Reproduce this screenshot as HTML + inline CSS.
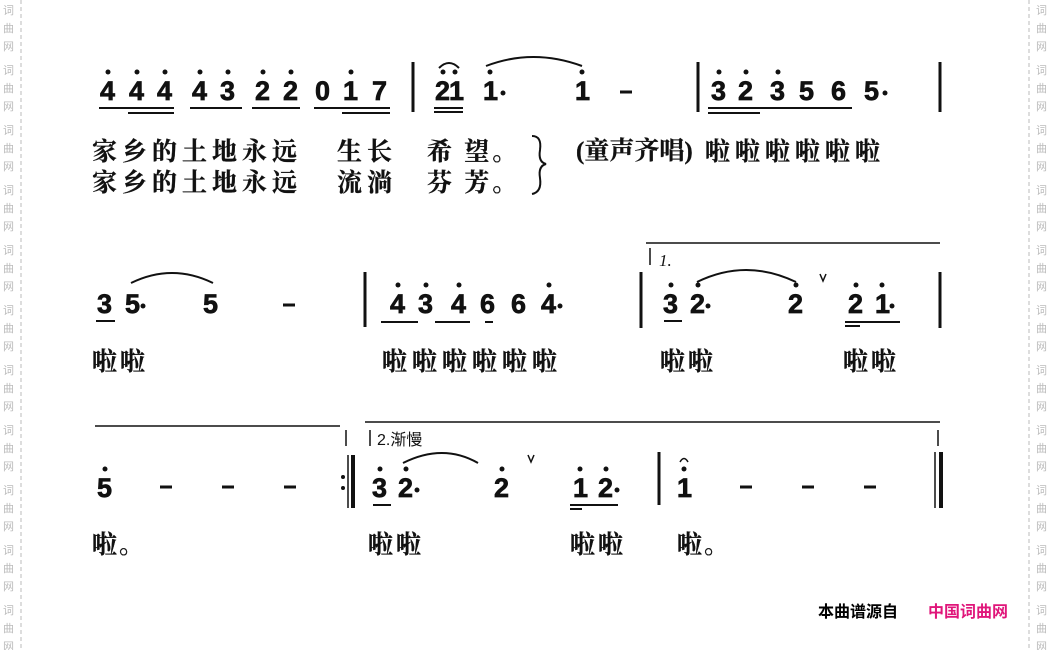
<!DOCTYPE html>
<html><head><meta charset="utf-8"><style>
html,body{margin:0;padding:0;background:#fff;}
svg{display:block}
.n{font-family:"Liberation Sans",sans-serif;font-weight:bold;font-size:27px;fill:#111;stroke:#111;stroke-width:0.7}
.l{font-family:"Liberation Serif","Noto Serif CJK SC",serif;font-size:25px;fill:#111;font-weight:bold;stroke:#111;stroke-width:0.3}
.w{font-family:"Noto Sans CJK SC",sans-serif;font-size:11px;fill:#bbb}
</style></head><body>
<svg width="1050" height="650" xmlns="http://www.w3.org/2000/svg">
<g stroke="#bbb" stroke-dasharray="4,3" stroke-width="1"><line x1="21" y1="0" x2="21" y2="650"/><line x1="1029" y1="0" x2="1029" y2="650"/></g>
<g class="w">
<text x="3" y="14">词</text><text x="3" y="32">曲</text><text x="3" y="50">网</text>
<text x="3" y="74">词</text><text x="3" y="92">曲</text><text x="3" y="110">网</text>
<text x="3" y="134">词</text><text x="3" y="152">曲</text><text x="3" y="170">网</text>
<text x="3" y="194">词</text><text x="3" y="212">曲</text><text x="3" y="230">网</text>
<text x="3" y="254">词</text><text x="3" y="272">曲</text><text x="3" y="290">网</text>
<text x="3" y="314">词</text><text x="3" y="332">曲</text><text x="3" y="350">网</text>
<text x="3" y="374">词</text><text x="3" y="392">曲</text><text x="3" y="410">网</text>
<text x="3" y="434">词</text><text x="3" y="452">曲</text><text x="3" y="470">网</text>
<text x="3" y="494">词</text><text x="3" y="512">曲</text><text x="3" y="530">网</text>
<text x="3" y="554">词</text><text x="3" y="572">曲</text><text x="3" y="590">网</text>
<text x="3" y="614">词</text><text x="3" y="632">曲</text><text x="3" y="650">网</text>
<text x="1036" y="14">词</text><text x="1036" y="32">曲</text><text x="1036" y="50">网</text>
<text x="1036" y="74">词</text><text x="1036" y="92">曲</text><text x="1036" y="110">网</text>
<text x="1036" y="134">词</text><text x="1036" y="152">曲</text><text x="1036" y="170">网</text>
<text x="1036" y="194">词</text><text x="1036" y="212">曲</text><text x="1036" y="230">网</text>
<text x="1036" y="254">词</text><text x="1036" y="272">曲</text><text x="1036" y="290">网</text>
<text x="1036" y="314">词</text><text x="1036" y="332">曲</text><text x="1036" y="350">网</text>
<text x="1036" y="374">词</text><text x="1036" y="392">曲</text><text x="1036" y="410">网</text>
<text x="1036" y="434">词</text><text x="1036" y="452">曲</text><text x="1036" y="470">网</text>
<text x="1036" y="494">词</text><text x="1036" y="512">曲</text><text x="1036" y="530">网</text>
<text x="1036" y="554">词</text><text x="1036" y="572">曲</text><text x="1036" y="590">网</text>
<text x="1036" y="614">词</text><text x="1036" y="632">曲</text><text x="1036" y="650">网</text>
</g>

<!-- ROW 1 -->
<g class="n">
<text x="100" y="100">4</text><text x="129" y="100">4</text><text x="157" y="100">4</text>
<text x="192" y="100">4</text><text x="220" y="100">3</text><text x="255" y="100">2</text><text x="283" y="100">2</text>
<text x="315" y="100">0</text><text x="343" y="100">1</text><text x="372" y="100">7</text>
<text x="435" y="100">2</text><text x="449" y="100">1</text>
<text x="483" y="100">1</text><text x="575" y="100">1</text>
<text x="711" y="100">3</text><text x="738" y="100">2</text><text x="770" y="100">3</text><text x="799" y="100">5</text><text x="831" y="100">6</text><text x="864" y="100">5</text>
</g>
<g fill="#111">
<circle cx="108" cy="72" r="2.5"/><circle cx="137" cy="72" r="2.5"/><circle cx="165" cy="72" r="2.5"/>
<circle cx="200" cy="72" r="2.5"/><circle cx="228" cy="72" r="2.5"/><circle cx="263" cy="72" r="2.5"/><circle cx="291" cy="72" r="2.5"/>
<circle cx="351" cy="72" r="2.5"/><circle cx="443" cy="72" r="2.5"/><circle cx="455" cy="72" r="2.5"/>
<circle cx="490" cy="72" r="2.5"/><circle cx="582" cy="72" r="2.5"/>
<circle cx="719" cy="72" r="2.5"/><circle cx="746" cy="72" r="2.5"/><circle cx="778" cy="72" r="2.5"/>
<circle cx="503" cy="93" r="2.5"/><circle cx="885" cy="93" r="2.5"/>
</g>
<g stroke="#111" stroke-width="2" fill="none">
<line x1="99" y1="108" x2="174" y2="108"/><line x1="128" y1="113" x2="174" y2="113"/>
<line x1="190" y1="108" x2="242" y2="108"/>
<line x1="252" y1="108" x2="300" y2="108"/>
<line x1="314" y1="108" x2="390" y2="108"/><line x1="342" y1="113" x2="390" y2="113"/>
<line x1="434" y1="108" x2="463" y2="108"/><line x1="434" y1="112" x2="463" y2="112"/>
<line x1="708" y1="108" x2="852" y2="108"/><line x1="708" y1="113" x2="760" y2="113"/>
<line x1="620" y1="92" x2="632" y2="92" stroke-width="3"/>
<path d="M439 68 Q449 58 459 68"/>
<path d="M486 66 Q533 48 582 66"/>
<line x1="413" y1="62" x2="413" y2="112" stroke-width="3"/>
<line x1="698" y1="62" x2="698" y2="112" stroke-width="3"/>
<line x1="940" y1="62" x2="940" y2="112" stroke-width="3"/>
</g>
<text class="l" x="92" y="160" letter-spacing="5">家乡的土地永远</text>
<text class="l" x="337" y="160" letter-spacing="5">生长</text>
<text class="l" x="427" y="160" letter-spacing="3">希 望。</text>
<text class="l" x="92" y="191" letter-spacing="5">家乡的土地永远</text>
<text class="l" x="337" y="191" letter-spacing="5">流淌</text>
<text class="l" x="427" y="191" letter-spacing="3">芬 芳。</text>
<path d="M532 136 Q542 136 540 150 Q538 162 546 164 Q538 166 540 178 Q542 192 532 194" stroke="#111" stroke-width="2" fill="none"/>
<text class="l" x="576" y="159" font-size="17">(童声齐唱)</text>
<text class="l" x="705" y="160" letter-spacing="5">啦啦啦啦啦啦</text>

<!-- ROW 2 -->
<g class="n">
<text x="97" y="313">3</text><text x="125" y="313">5</text><text x="203" y="313">5</text>
<text x="390" y="313">4</text><text x="418" y="313">3</text><text x="451" y="313">4</text><text x="480" y="313">6</text><text x="511" y="313">6</text><text x="541" y="313">4</text>
<text x="663" y="313">3</text><text x="690" y="313">2</text><text x="788" y="313">2</text><text x="848" y="313">2</text><text x="875" y="313">1</text>
</g>
<g fill="#111">
<circle cx="143" cy="306" r="2.5"/><circle cx="560" cy="306" r="2.5"/><circle cx="708" cy="306" r="2.5"/><circle cx="892" cy="306" r="2.5"/>
<circle cx="398" cy="285" r="2.5"/><circle cx="426" cy="285" r="2.5"/><circle cx="459" cy="285" r="2.5"/><circle cx="549" cy="285" r="2.5"/>
<circle cx="671" cy="285" r="2.5"/><circle cx="698" cy="285" r="2.5"/><circle cx="796" cy="285" r="2.5"/><circle cx="856" cy="285" r="2.5"/><circle cx="882" cy="285" r="2.5"/>
</g>
<g stroke="#111" stroke-width="2" fill="none">
<line x1="96" y1="321" x2="115" y2="321"/>
<path d="M131 283 Q172 263 213 283"/>
<line x1="283" y1="305" x2="295" y2="305" stroke-width="3"/>
<line x1="365" y1="272" x2="365" y2="327" stroke-width="3"/>
<line x1="381" y1="322" x2="418" y2="322"/><line x1="435" y1="322" x2="470" y2="322"/><line x1="485" y1="322" x2="493" y2="322"/>
<line x1="646" y1="243" x2="940" y2="243" stroke-width="1.5"/>
<line x1="650" y1="248" x2="650" y2="265" stroke-width="1.5"/>
<line x1="641" y1="272" x2="641" y2="328" stroke-width="3"/>
<line x1="664" y1="321" x2="682" y2="321"/>
<path d="M697 282 Q746 258 796 282"/>
<path d="M820 274 L823 281 L826 274" stroke-width="1.5"/>
<line x1="845" y1="322" x2="900" y2="322"/><line x1="845" y1="326" x2="860" y2="326"/>
<line x1="940" y1="272" x2="940" y2="328" stroke-width="3"/>
</g>
<text x="659" y="266" font-family="Liberation Serif,serif" font-style="italic" font-size="17" fill="#111">1.</text>
<text class="l" x="92" y="370" letter-spacing="3">啦啦</text>
<text class="l" x="382" y="370" letter-spacing="5">啦啦啦啦啦啦</text>
<text class="l" x="660" y="370" letter-spacing="3">啦啦</text>
<text class="l" x="843" y="370" letter-spacing="3">啦啦</text>

<!-- ROW 3 -->
<g class="n">
<text x="97" y="497">5</text>
<text x="372" y="497">3</text><text x="398" y="497">2</text><text x="494" y="497">2</text>
<text x="573" y="497">1</text><text x="598" y="497">2</text>
<text x="677" y="497">1</text>
</g>
<g fill="#111">
<circle cx="105" cy="469" r="2.5"/><circle cx="380" cy="469" r="2.5"/><circle cx="406" cy="469" r="2.5"/><circle cx="502" cy="469" r="2.5"/>
<circle cx="580" cy="469" r="2.5"/><circle cx="606" cy="469" r="2.5"/><circle cx="684" cy="469" r="2.5"/>
<circle cx="417" cy="490" r="2.5"/><circle cx="617" cy="490" r="2.5"/>
<circle cx="343" cy="477" r="2"/><circle cx="343" cy="488" r="2"/>
</g>
<g stroke="#111" stroke-width="2" fill="none">
<line x1="95" y1="426" x2="340" y2="426" stroke-width="1.5"/>
<line x1="365" y1="422" x2="940" y2="422" stroke-width="1.5"/>
<line x1="346" y1="430" x2="346" y2="446" stroke-width="1.5"/>
<line x1="370" y1="430" x2="370" y2="446" stroke-width="1.5"/>
<line x1="938" y1="430" x2="938" y2="446" stroke-width="1.5"/>
<line x1="160" y1="487" x2="172" y2="487" stroke-width="3"/>
<line x1="222" y1="487" x2="234" y2="487" stroke-width="3"/>
<line x1="284" y1="487" x2="296" y2="487" stroke-width="3"/>
<line x1="348" y1="455" x2="348" y2="508" stroke-width="1.5"/>
<line x1="353" y1="455" x2="353" y2="508" stroke-width="4"/>
<line x1="373" y1="505" x2="391" y2="505"/>
<path d="M403 463 Q443 443 478 463"/>
<path d="M528 455 L531 462 L534 455" stroke-width="1.5"/>
<line x1="570" y1="505" x2="618" y2="505"/><line x1="570" y1="509" x2="582" y2="509"/>
<line x1="659" y1="452" x2="659" y2="505" stroke-width="3"/>
<path d="M680 462 Q684 455 688 462" stroke-width="1.5"/>
<line x1="740" y1="487" x2="752" y2="487" stroke-width="3"/>
<line x1="802" y1="487" x2="814" y2="487" stroke-width="3"/>
<line x1="864" y1="487" x2="876" y2="487" stroke-width="3"/>
<line x1="935" y1="452" x2="935" y2="508" stroke-width="1.5"/>
<line x1="941" y1="452" x2="941" y2="508" stroke-width="4"/>
</g>
<text x="377" y="445" font-family="Liberation Sans,'Noto Sans CJK SC',sans-serif" font-size="16" fill="#111">2.渐慢</text>
<text class="l" x="92" y="553" letter-spacing="2">啦。</text>
<text class="l" x="368" y="553" letter-spacing="3">啦啦</text>
<text class="l" x="570" y="553" letter-spacing="3">啦啦</text>
<text class="l" x="677" y="553" letter-spacing="2">啦。</text>

<text x="818" y="617" font-family="'Noto Sans CJK SC',sans-serif" font-weight="bold" font-size="16" fill="#000">本曲谱源自</text>
<text x="928" y="617" font-family="'Noto Sans CJK SC',sans-serif" font-weight="bold" font-size="16" fill="#e0157a">中国词曲网</text>
</svg>
</body></html>
